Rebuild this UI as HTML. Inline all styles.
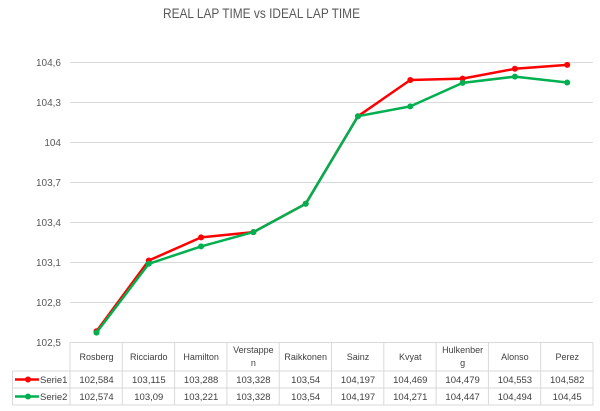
<!DOCTYPE html>
<html><head><meta charset="utf-8"><style>
html,body{margin:0;padding:0;background:#fff;}
svg{display:block;}
text{font-family:"Liberation Sans",Arial,sans-serif;}
</style></head><body>
<svg width="600" height="411" viewBox="0 0 600 411" xmlns="http://www.w3.org/2000/svg">
<rect width="600" height="411" fill="#fff"/>
<text x="163" y="18" font-size="13.5" fill="#595959" textLength="197" lengthAdjust="spacingAndGlyphs">REAL LAP TIME vs IDEAL LAP TIME</text>
<g stroke="#d9d9d9" stroke-width="1">
<line x1="70" y1="62.5" x2="593" y2="62.5"/>
<line x1="70" y1="102.5" x2="593" y2="102.5"/>
<line x1="70" y1="142.5" x2="593" y2="142.5"/>
<line x1="70" y1="182.5" x2="593" y2="182.5"/>
<line x1="70" y1="222.5" x2="593" y2="222.5"/>
<line x1="70" y1="262.5" x2="593" y2="262.5"/>
<line x1="70" y1="302.5" x2="593" y2="302.5"/>
</g>
<g font-size="10" fill="#595959" text-anchor="end">
<text x="61" y="66">104,6</text>
<text x="61" y="106">104,3</text>
<text x="61" y="146">104</text>
<text x="61" y="186">103,7</text>
<text x="61" y="226">103,4</text>
<text x="61" y="266">103,1</text>
<text x="61" y="306">102,8</text>
<text x="61" y="346">102,5</text>
</g>
<!-- table grid -->
<g stroke="#d9d9d9" stroke-width="1" fill="none">
<line x1="70" y1="342.5" x2="593" y2="342.5"/>
<line x1="12.5" y1="371" x2="593" y2="371"/>
<line x1="12.5" y1="388" x2="593" y2="388"/>
<line x1="12.5" y1="405" x2="593" y2="405"/>
<line x1="12.5" y1="371" x2="12.5" y2="405"/>
<line x1="70" y1="342.5" x2="70" y2="405"/>
<line x1="122.3" y1="342.5" x2="122.3" y2="405"/>
<line x1="174.6" y1="342.5" x2="174.6" y2="405"/>
<line x1="226.9" y1="342.5" x2="226.9" y2="405"/>
<line x1="279.2" y1="342.5" x2="279.2" y2="405"/>
<line x1="331.5" y1="342.5" x2="331.5" y2="405"/>
<line x1="383.8" y1="342.5" x2="383.8" y2="405"/>
<line x1="436.1" y1="342.5" x2="436.1" y2="405"/>
<line x1="488.4" y1="342.5" x2="488.4" y2="405"/>
<line x1="540.7" y1="342.5" x2="540.7" y2="405"/>
<line x1="593" y1="342.5" x2="593" y2="405"/>
</g>
<!-- header -->
<g font-size="9" fill="#404040" text-anchor="middle">
<text x="96.5" y="360">Rosberg</text>
<text x="148.8" y="360">Ricciardo</text>
<text x="201.1" y="360">Hamilton</text>
<text x="253.4" y="353">Verstappe</text>
<text x="253.4" y="366">n</text>
<text x="305.7" y="360">Raikkonen</text>
<text x="358" y="360">Sainz</text>
<text x="410.3" y="360">Kvyat</text>
<text x="462.6" y="353">Hulkenber</text>
<text x="462.6" y="366">g</text>
<text x="514.9" y="360">Alonso</text>
<text x="567.2" y="360">Perez</text>
</g>
<g font-size="9.5" fill="#404040" text-anchor="middle">
<text x="96.5" y="383">102,584</text>
<text x="148.8" y="383">103,115</text>
<text x="201.1" y="383">103,288</text>
<text x="253.4" y="383">103,328</text>
<text x="305.7" y="383">103,54</text>
<text x="358" y="383">104,197</text>
<text x="410.3" y="383">104,469</text>
<text x="462.6" y="383">104,479</text>
<text x="514.9" y="383">104,553</text>
<text x="567.2" y="383">104,582</text>
<text x="96.5" y="400">102,574</text>
<text x="148.8" y="400">103,09</text>
<text x="201.1" y="400">103,221</text>
<text x="253.4" y="400">103,328</text>
<text x="305.7" y="400">103,54</text>
<text x="358" y="400">104,197</text>
<text x="410.3" y="400">104,271</text>
<text x="462.6" y="400">104,447</text>
<text x="514.9" y="400">104,494</text>
<text x="567.2" y="400">104,45</text>
</g>
<g font-size="9.5" fill="#404040">
<text x="40" y="383">Serie1</text>
<text x="40" y="400">Serie2</text>
</g>
<line x1="15" y1="379.5" x2="39" y2="379.5" stroke="#ff0000" stroke-width="2.5"/>
<circle cx="28" cy="379.5" r="3" fill="#ff0000"/>
<line x1="15" y1="396.5" x2="39" y2="396.5" stroke="#00b050" stroke-width="2.5"/>
<circle cx="28" cy="396.5" r="3" fill="#00b050"/>
<!-- series -->
<polyline fill="none" stroke="#ff0000" stroke-width="2.5" stroke-linejoin="round" points="96.5,331.3 148.8,260.5 201.1,237.4 253.4,232.1 305.7,203.8 358,116.2 410.3,80 462.6,78.6 514.9,68.8 567.2,64.9"/>
<g fill="#ff0000">
<circle cx="96.5" cy="331.3" r="3"/><circle cx="148.8" cy="260.5" r="3"/><circle cx="201.1" cy="237.4" r="3"/><circle cx="253.4" cy="232.1" r="3"/><circle cx="305.7" cy="203.8" r="3"/><circle cx="358" cy="116.2" r="3"/><circle cx="410.3" cy="80" r="3"/><circle cx="462.6" cy="78.6" r="3"/><circle cx="514.9" cy="68.8" r="3"/><circle cx="567.2" cy="64.9" r="3"/>
</g>
<polyline fill="none" stroke="#00b050" stroke-width="2.5" stroke-linejoin="round" points="96.5,332.6 148.8,263.8 201.1,246.4 253.4,232.1 305.7,203.8 358,116.2 410.3,106.4 462.6,82.9 514.9,76.6 567.2,82.5"/>
<g fill="#00b050">
<circle cx="96.5" cy="332.6" r="3"/><circle cx="148.8" cy="263.8" r="3"/><circle cx="201.1" cy="246.4" r="3"/><circle cx="253.4" cy="232.1" r="3"/><circle cx="305.7" cy="203.8" r="3"/><circle cx="358" cy="116.2" r="3"/><circle cx="410.3" cy="106.4" r="3"/><circle cx="462.6" cy="82.9" r="3"/><circle cx="514.9" cy="76.6" r="3"/><circle cx="567.2" cy="82.5" r="3"/>
</g>
</svg>
</body></html>
